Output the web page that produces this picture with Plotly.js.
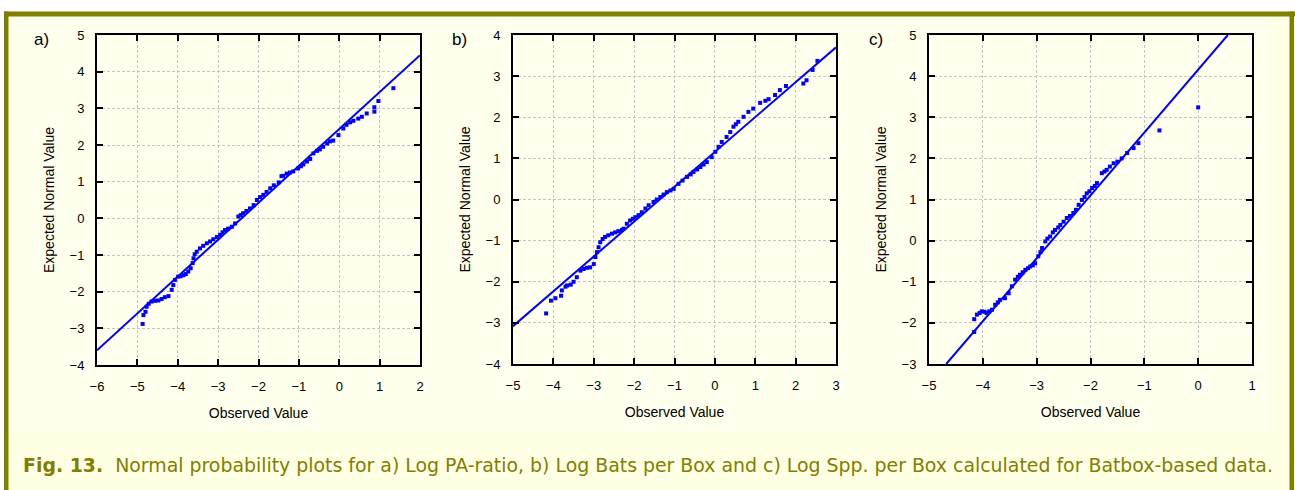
<!DOCTYPE html>
<html><head><meta charset="utf-8">
<script src="https://cdn.plot.ly/plotly-3.0.1.min.js"></script>
<style>html,body{margin:0;padding:0;background:#fff;}#chart{width:1295px;height:490px;}</style>
</head><body><div id="chart"></div>
<script>
// Panel a) Log PA-ratio
const aObs = [-4.87,-4.85,-4.8,-4.77,-4.72,-4.65,-4.56,-4.48,-4.4,-4.32,-4.23,-4.15,-4.11,-4.07,-3.99,-3.93,-3.86,-3.8,-3.74,-3.68,-3.63,-3.61,-3.58,-3.53,-3.45,-3.37,-3.28,-3.2,-3.12,-3.03,-2.95,-2.89,-2.83,-2.75,-2.66,-2.58,-2.5,-2.44,-2.38,-2.3,-2.21,-2.12,-2.04,-1.96,-1.88,-1.8,-1.71,-1.62,-1.5,-1.43,-1.39,-1.3,-1.22,-1.14,-1.02,-0.95,-0.89,-0.8,-0.72,-0.64,-0.55,-0.48,-0.4,-0.3,-0.23,-0.15,-0.02,0.1,0.18,0.27,0.35,0.47,0.56,0.68,0.87,0.87,0.97,1.34];
const aExp = [-2.88,-2.64,-2.55,-2.41,-2.33,-2.27,-2.25,-2.24,-2.2,-2.15,-2.12,-1.95,-1.82,-1.68,-1.59,-1.58,-1.55,-1.52,-1.45,-1.36,-1.22,-1.09,-0.98,-0.91,-0.82,-0.75,-0.68,-0.63,-0.57,-0.51,-0.45,-0.38,-0.32,-0.28,-0.23,-0.14,0.05,0.09,0.14,0.2,0.27,0.36,0.5,0.58,0.64,0.72,0.82,0.9,0.98,1.15,1.16,1.22,1.25,1.28,1.36,1.42,1.47,1.55,1.62,1.77,1.84,1.88,1.95,2.04,2.1,2.12,2.27,2.45,2.55,2.62,2.66,2.72,2.77,2.86,2.91,3.03,3.2,3.55];
const aFitX = [-6, 2];
const aFitY = [-3.6, 4.45];

// Panel b) Log Bats per Box
const bObs = [-4.18,-4.06,-3.95,-3.81,-3.79,-3.7,-3.66,-3.57,-3.5,-3.42,-3.33,-3.25,-3.17,-3.09,-3.0,-2.96,-2.92,-2.88,-2.84,-2.78,-2.72,-2.64,-2.55,-2.47,-2.39,-2.3,-2.26,-2.18,-2.1,-2.03,-1.97,-1.89,-1.81,-1.72,-1.64,-1.52,-1.44,-1.35,-1.27,-1.19,-1.1,-1.02,-0.9,-0.8,-0.69,-0.6,-0.53,-0.44,-0.36,-0.28,-0.2,-0.08,0.01,0.09,0.17,0.29,0.38,0.46,0.52,0.58,0.71,0.83,0.95,1.12,1.25,1.33,1.49,1.61,1.76,2.19,2.27,2.42,2.54];
const bExp = [-2.77,-2.46,-2.4,-2.34,-2.21,-2.12,-2.09,-2.07,-2.0,-1.89,-1.73,-1.69,-1.66,-1.65,-1.57,-1.4,-1.28,-1.16,-1.04,-0.96,-0.91,-0.87,-0.83,-0.8,-0.77,-0.74,-0.71,-0.59,-0.51,-0.47,-0.43,-0.38,-0.31,-0.22,-0.14,-0.06,0.0,0.06,0.12,0.18,0.22,0.26,0.38,0.46,0.55,0.61,0.67,0.73,0.79,0.85,0.91,1.03,1.16,1.28,1.4,1.52,1.64,1.77,1.83,1.89,2.01,2.13,2.21,2.35,2.4,2.44,2.54,2.66,2.76,2.82,2.9,3.15,3.37];
const bFitX = [-5, 3];
const bFitY = [-3.08, 3.7];

// Panel c) Log Spp. per Box
const cObs = [-4.16,-4.16,-4.11,-4.06,-4.02,-3.97,-3.93,-3.88,-3.83,-3.77,-3.72,-3.68,-3.59,-3.52,-3.46,-3.4,-3.35,-3.31,-3.26,-3.21,-3.16,-3.12,-3.07,-3.03,-2.97,-2.93,-2.9,-2.84,-2.8,-2.75,-2.7,-2.66,-2.6,-2.56,-2.5,-2.44,-2.38,-2.32,-2.27,-2.22,-2.16,-2.11,-2.07,-2.02,-1.97,-1.92,-1.88,-1.79,-1.74,-1.7,-1.64,-1.57,-1.5,-1.42,-1.32,-1.2,-1.11,-0.72,0.0];
const cExp = [-2.22,-1.91,-1.8,-1.76,-1.72,-1.73,-1.76,-1.72,-1.68,-1.56,-1.5,-1.44,-1.4,-1.28,-1.11,-0.95,-0.88,-0.83,-0.77,-0.71,-0.67,-0.63,-0.6,-0.55,-0.38,-0.28,-0.18,-0.02,0.05,0.1,0.2,0.26,0.32,0.38,0.46,0.55,0.6,0.67,0.75,0.87,0.99,1.06,1.15,1.2,1.28,1.33,1.4,1.64,1.68,1.72,1.8,1.88,1.92,2.0,2.13,2.25,2.37,2.68,3.24];
const cFitX = [-4.68, 0.55];
const cFitY = [-3, 5];

const panelLabels = ['a)', 'b)', 'c)'];
const xRanges = [[-6, 2], [-5, 3], [-5, 1]];
const yRanges = [[-4, 5], [-4, 4], [-3, 5]];
const xTitle = 'Observed Value';
const yTitle = 'Expected Normal Value';
const caption = '<b>Fig. 13.</b>\u00A0\u00A0Normal probability plots for a) Log PA-ratio, b) Log Bats per Box and c) Log Spp. per Box calculated for Batbox-based data.';

const W = 1295, H = 490;
const px = v => v / W;
const py = v => 1 - v / H;
const BLUE = '#0000ff';
const OLIVE = '#808000';
const SANS = 'Liberation Sans, Arial, sans-serif';

const plotBoxes = [[97, 420, 35, 365], [513, 836, 35, 364], [929, 1252, 35, 364]];
const sets = [[aObs, aExp, aFitX, aFitY], [bObs, bExp, bFitX, bFitY], [cObs, cExp, cFitX, cFitY]];

const traces = [];
const layout = {
  width: W, height: H,
  margin: {l: 0, r: 0, t: 0, b: 0},
  paper_bgcolor: '#ffffe3',
  plot_bgcolor: '#ffffff',
  showlegend: false,
  font: {family: SANS, size: 13, color: '#000'},
  shapes: [
    {type: 'rect', xref: 'paper', yref: 'paper', x0: 0, x1: 1, y0: py(12), y1: 1, fillcolor: '#ffffff', line: {width: 0}, layer: 'below'},
    {type: 'rect', xref: 'paper', yref: 'paper', x0: 0, x1: px(4), y0: 0, y1: 1, fillcolor: '#ffffff', line: {width: 0}, layer: 'below'},
    {type: 'rect', xref: 'paper', yref: 'paper', x0: px(8), x1: px(1274), y0: py(433), y1: py(16), fillcolor: '#ffffee', line: {width: 0}, layer: 'below'},
    {type: 'rect', xref: 'paper', yref: 'paper', x0: px(4), x1: px(1295), y0: py(16.5), y1: py(11.5), fillcolor: OLIVE, line: {width: 0}, layer: 'below'},
    {type: 'rect', xref: 'paper', yref: 'paper', x0: px(4), x1: px(8.5), y0: 0, y1: py(11.5), fillcolor: OLIVE, line: {width: 0}, layer: 'below'},
    {type: 'rect', xref: 'paper', yref: 'paper', x0: px(1289.5), x1: px(1294), y0: 0, y1: py(11.5), fillcolor: OLIVE, line: {width: 0}, layer: 'below'}
  ],
  annotations: [
    {xref: 'paper', yref: 'paper', x: px(21), y: py(465), xanchor: 'left', yanchor: 'middle', showarrow: false,
     text: caption, font: {family: 'DejaVu Sans, Verdana, sans-serif', size: 18.9, color: OLIVE}}
  ]
};

const labelX = [32, 450, 867];
sets.forEach((s, i) => {
  const n = i === 0 ? '' : String(i + 1);
  const b = plotBoxes[i];
  traces.push({type: 'scatter', mode: 'markers', x: s[0], y: s[1], xaxis: 'x' + n, yaxis: 'y' + n,
    marker: {symbol: 'square', size: 4, color: BLUE, line: {width: 0}}, hoverinfo: 'x+y'});
  traces.push({type: 'scatter', mode: 'lines', x: s[2], y: s[3], xaxis: 'x' + n, yaxis: 'y' + n,
    line: {color: BLUE, width: 2}, hoverinfo: 'skip'});
  const common = {
    showgrid: true, gridcolor: '#c4c4c4', griddash: '3px,2px', gridwidth: 1,
    zeroline: false, showline: true, linecolor: '#000', linewidth: 2, mirror: 'ticks',
    ticks: 'inside', ticklen: 6, tickwidth: 2, tickcolor: '#000', dtick: 1,
    tickfont: {family: SANS, size: 13, color: '#000'},
    fixedrange: true
  };
  layout['xaxis' + n] = Object.assign({}, common, {
    domain: [px(b[0]), px(b[1])], range: xRanges[i], anchor: 'y' + n, ticklabelstandoff: 8,
    title: {text: xTitle, standoff: 16, font: {size: 14, family: SANS}}
  });
  layout['yaxis' + n] = Object.assign({}, common, {
    domain: [py(b[3]), py(b[2])], range: yRanges[i], anchor: 'x' + n, ticklabelstandoff: 8,
    title: {text: yTitle, standoff: 12, font: {size: 14, family: SANS}}
  });
  layout.annotations.push({xref: 'paper', yref: 'paper', x: px(labelX[i]), y: py(40), xanchor: 'left', yanchor: 'middle',
    showarrow: false, text: panelLabels[i], font: {family: SANS, size: 17, color: '#000'}});
});

Plotly.newPlot('chart', traces, layout, {displayModeBar: false, staticPlot: true});
</script>
</body></html>
